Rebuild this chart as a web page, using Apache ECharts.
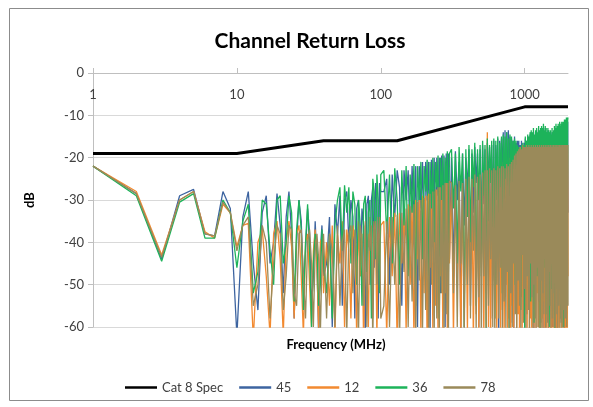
<!DOCTYPE html>
<html>
<head>
<meta charset="utf-8">
<script src="https://cdn.jsdelivr.net/npm/echarts@6/dist/echarts.min.js"></script>
<style>
html,body{margin:0;padding:0;background:#fff;}
#chart{width:593px;height:407px;}
</style>
</head>
<body>
<div id="chart"></div>
<script>
// ---- Data ----
const xTickLabels = ['1', '10', '100', '1000'];
const yTicks = [0, -10, -20, -30, -40, -50, -60];
const seriesNames = ['Cat 8 Spec', '45', '12', '36', '78'];

const specFreqs = [1, 10, 40, 130, 1000, 2000];
const specVals = [-19, -19, -16, -16, -8, -8];

const freqs = [
  1,2,3,4,5,6,7,8,9,10,11,12,13,14,15,16,17,18,19,20,
  21,22,23,24,25,26,27,28,29,30,31,32,33,34,35,36,37,38,39,40,
  42,44,46,48,50,52,54,56,58,60,62,64,66,68,70,72,74,76,78,80,
  82,84,86,88,90,92,94,96,98,100,
  105,110,115,120,125,130,135,140,145,150,155,160,165,170,175,180,185,190,195,200,
  205,210,215,220,225,230,235,240,245,250,255,260,265,270,275,280,285,290,295,300,
  310,320,330,340,350,360,370,380,390,400,
  410,420,430,440,450,460,470,480,490,500,
  510,520,530,540,550,560,570,580,590,600,
  610,620,630,640,650,660,670,680,690,700,
  710,720,730,740,750,760,770,780,790,800,
  810,820,830,840,850,860,870,880,890,900,
  910,920,930,940,950,960,970,980,990,1000,
  1010,1020,1030,1040,1050,1060,1070,1080,1090,1100,
  1110,1120,1130,1140,1150,1160,1170,1180,1190,1200,
  1210,1220,1230,1240,1250,1260,1270,1280,1290,1300,
  1310,1320,1330,1340,1350,1360,1370,1380,1390,1400,
  1410,1420,1430,1440,1450,1460,1470,1480,1490,1500,
  1510,1520,1530,1540,1550,1560,1570,1580,1590,1600,
  1610,1620,1630,1640,1650,1660,1670,1680,1690,1700,
  1710,1720,1730,1740,1750,1760,1770,1780,1790,1800,
  1810,1820,1830,1840,1850,1860,1870,1880,1890,1900,
  1910,1920,1930,1940,1950,1960,1970,1980,1990,2000
];

const rl45 = [
  -22,-28.5,-44,-29,-27.5,-38,-38.5,-28,-32,-62,-34,-28,-45,-56,-33,-29,-45,-40,-28.5,-36,
  -52,-34,-28,-38,-58,-40,-30,-35,-50,-42,-32,-38,-55,-48,-35,-45,-62,-42,-36,-48,
  -45,-34,-60,-31,-38,-29,-55,-30,-28,-40,-30,-34,-58,-32,-30,-48,-32,-36,-62,-31,
  -29,-50,-30,-27,-46,-26,-29,-58,-26,-28,
  -28,-25,-50,-24,-34,-23,-27,-55,-23,-30,-23,-40,-22,-35,-22,-60,-22,-32,-21,-45,
  -21,-30,-21,-62,-20.5,-34,-20,-48,-20,-29,-20,-52,-19.5,-33,-19.5,-60,-19,-31,-19,-44,
  -20,-48,-18.5,-30,-21,-62,-19,-36,-20,-27,
  -18,-55,-19,-33,-17.5,-26,-19,-60,-18,-38,
  -17,-31,-18,-47,-16.5,-27,-17.5,-58,-17,-35,
  -16,-42,-17,-28,-15.5,-63,-16,-32,-15.5,-26,
  -14,-50,-13.5,-30,-14,-37,-13.5,-27,-15,-59,
  -15.5,-29,-16,-61,-15,-34,-16.5,-45,-16,-28,
  -16,-52,-17,-30,-16,-26,-17.5,-44,-16.5,-35,
  -15.5,-28,-16,-57,-15,-33,-15.5,-40,-14.5,-27,
  -14,-46,-14.5,-31,-14,-62,-15,-28,-14,-38,
  -13.5,-30,-14.5,-50,-13.5,-27,-14,-36,-13.5,-59,
  -13,-28,-14,-33,-13,-61,-14,-42,-13,-27,
  -14,-53,-14.5,-29,-13.5,-38,-14,-26,-14.5,-47,
  -14,-36,-15,-28,-14,-60,-14.5,-31,-14,-44,
  -13.5,-27,-14,-50,-13,-33,-14,-62,-13.5,-29,
  -13,-41,-13.5,-27,-12.5,-55,-13.5,-32,-13,-28,
  -12.5,-60,-13,-35,-12.5,-28,-13,-46,-12,-31,
  -12,-29,-12.5,-43,-12,-30,-12,-58,-11.5,-33
];

const rl12 = [
  -22,-28,-43,-30,-28,-37.5,-39,-31,-33,-41,-36,-35.5,-63,-40,-37,-48,-62,-38,-35,-44,
  -62,-40,-35,-41,-58,-38,-36,-48,-62,-40,-38,-50,-60,-42,-37,-46,-61,-40,-39,-52,
  -40,-55,-36,-62,-38,-45,-35,-60,-37,-42,-58,-36,-40,-62,-35,-48,-38,-64,-36,-44,
  -60,-34,-42,-58,-35,-39,-63,-34,-45,-36,
  -35,-62,-34,-48,-33,-64,-33,-45,-32,-61,-31,-50,-31,-63,-30,-44,-30,-62,-29,-52,
  -29,-65,-28.5,-46,-28,-61,-28,-55,-27.5,-63,-27,-48,-27,-64,-26.5,-52,-26,-62,-26,-45,
  -27,-62,-26.5,-48,-27,-65,-26,-55,-26,-61,
  -25.5,-50,-25,-64,-25.5,-57,-24.5,-62,-25,-46,
  -24,-63,-23.5,-52,-14,-60,-23,-66,-23.5,-49,
  -22.5,-58,-22.5,-63,-22,-47,-22.5,-61,-21.5,-56,
  -21,-64,-21.5,-50,-20.5,-62,-21,-58,-20,-65,
  -19.5,-55,-19,-63,-19.5,-48,-18.5,-61,-18.5,-57,
  -18,-62,-17.5,-53,-18,-65,-17,-49,-17.5,-60,
  -17.5,-56,-18,-63,-17.5,-50,-18,-62,-17,-58,
  -17.5,-64,-18,-47,-17.5,-61,-18,-55,-17.5,-63,
  -17,-52,-17.5,-60,-17,-65,-17.5,-49,-17,-62,
  -17.5,-58,-17,-63,-17.5,-54,-17,-61,-17.5,-48,
  -17,-65,-17.5,-56,-17,-62,-17.5,-50,-17,-64,
  -17.5,-53,-17,-61,-17.5,-47,-17,-63,-17.5,-57,
  -17,-62,-17.5,-50,-17,-64,-17.5,-55,-17,-61,
  -17.5,-48,-17,-63,-17.5,-58,-17,-52,-17.5,-65,
  -17,-60,-17.5,-54,-17,-62,-17.5,-49,-17,-63,
  -17.5,-56,-17,-61,-17.5,-50,-17,-64,-17,-48
];

const rl36 = [
  -22,-29,-44.5,-30.5,-28.5,-39,-39,-30,-33,-46,-35,-31,-52,-47,-30,-31,-42,-50,-30,-29,
  -45,-40,-29,-33,-54,-37,-30,-37,-56,-40,-31,-42,-60,-45,-38,-40,-55,-50,-37,-45,
  -52,-38,-58,-36,-30,-27,-42,-26.5,-33,-27,-45,-28,-31,-50,-30,-36,-55,-31,-29,-47,
  -33,-30,-58,-25,-28,-44,-24,-30,-52,-24,
  -23,-38,-24,-45,-22.5,-30,-50,-23,-36,-22,-48,-24,-33,-21.5,-55,-22,-30,-21,-44,-22,
  -28,-20.5,-52,-21,-32,-20,-40,-21,-27,-19.5,-58,-20,-30,-19,-42,-20,-26,-18.5,-47,-19,
  -18,-32,-19,-45,-17.5,-28,-19,-60,-18,-34,
  -17,-40,-18,-27,-16.5,-55,-18,-30,-17,-48,
  -16,-29,-17,-62,-15.5,-35,-17,-26,-16,-44,
  -15.5,-58,-16,-30,-15,-41,-16.5,-27,-15,-52,
  -14.5,-33,-15,-25,-14,-47,-15.5,-61,-14.5,-29,
  -15,-38,-16,-26,-15.5,-50,-16,-31,-17,-42,
  -17.5,-27,-18,-56,-17,-33,-16.5,-24,-17,-63,
  -15,-36,-16,-28,-14.5,-45,-15,-30,-14,-54,
  -13.5,-26,-14,-40,-13,-59,-14.5,-29,-13.5,-35,
  -13,-48,-14,-27,-12.5,-33,-13.5,-62,-13,-30,
  -12.5,-39,-13,-25,-12,-46,-13.5,-28,-12.5,-57,
  -13,-31,-14,-44,-13,-26,-13.5,-60,-14,-34,
  -13.5,-29,-14.5,-51,-13,-37,-14,-27,-13.5,-43,
  -12.5,-61,-13,-30,-12,-38,-13,-26,-12.5,-49,
  -12,-33,-12.5,-45,-11.5,-28,-12.5,-58,-12,-36,
  -11.5,-27,-12,-42,-11.5,-60,-12,-31,-11,-47,
  -11,-35,-11.5,-26,-10.5,-52,-11,-29,-10.5,-11
];

const rl78 = [
  -22,-28.5,-43.5,-30,-28,-38,-38.5,-30.5,-33,-42,-36,-34,-55,-50,-36,-40,-58,-45,-36,-38,
  -56,-48,-36,-37,-52,-55,-38,-37,-48,-58,-40,-37,-45,-60,-42,-38,-44,-62,-45,-38,
  -58,-38,-42,-60,-36,-55,-40,-37,-62,-38,-36,-52,-37,-45,-62,-36,-40,-55,-35,-60,
  -38,-42,-36,-64,-37,-35,-50,-40,-34,-58,
  -55,-35,-60,-34,-50,-33.5,-63,-33,-47,-32,-60,-31.5,-54,-31,-62,-30.5,-49,-30,-61,-29.5,
  -56,-29,-64,-28.5,-50,-28,-62,-27.5,-58,-27,-63,-27,-52,-26.5,-61,-26,-57,-26,-64,-25.5,
  -26,-52,-26.5,-60,-25.5,-45,-26,-63,-25,-50,
  -24.5,-58,-25,-42,-24,-61,-24.5,-53,-24,-64,
  -23.5,-48,-23,-62,-23,-55,-22.5,-44,-23,-60,
  -22.5,-63,-23,-50,-22,-58,-22.5,-46,-22,-62,
  -22,-54,-22.5,-61,-21.5,-47,-22,-64,-21.5,-52,
  -21,-60,-20.5,-45,-19.5,-57,-19,-63,-18.5,-49,
  -18,-55,-17.5,-62,-18,-43,-17,-59,-17.5,-51,
  -17.5,-64,-17,-48,-17.5,-56,-17,-61,-17.5,-45,
  -17,-53,-17.5,-63,-17,-50,-17.5,-58,-17,-62,
  -17.5,-46,-17,-60,-17.5,-54,-17,-64,-17.5,-49,
  -17,-61,-17.5,-52,-17,-57,-17.5,-44,-17,-63,
  -17.5,-50,-17,-59,-17.5,-62,-17,-47,-17.5,-55,
  -17,-63,-17.5,-45,-17,-58,-17.5,-52,-17,-60,
  -17.5,-48,-17,-64,-17.5,-51,-17,-57,-17.5,-62,
  -17,-55,-17.5,-46,-17,-61,-17.5,-53,-17,-59,
  -17.5,-62,-17,-50,-17.5,-56,-17,-63,-17.5,-47,
  -17,-58,-17.5,-52,-17,-60,-17.5,-49,-17,-55
];

// ---- Build series data from arrays ----
function pairs(xs, ys) { return xs.map((x, i) => [x, ys[i]]); }

const colors = ['#000000', '#3d64a0', '#f28a30', '#1db35a', '#9a8a5a'];
const fontFam = 'Lato, "Open Sans", "Liberation Sans", sans-serif';

const chart = echarts.init(document.getElementById('chart'), null, { renderer: 'canvas' });

const dataSeries = [rl45, rl12, rl36, rl78];

const option = {
  backgroundColor: '#ffffff',
  animation: false,
  color: colors,
  textStyle: { fontFamily: fontFam },
  title: [
    {
      text: 'Channel Return Loss',
      left: 305, top: 26, textAlign: 'center',
      textStyle: { fontSize: 21, fontWeight: 'bold', color: '#000', fontFamily: fontFam }
    },
    {
      text: 'Frequency (MHz)',
      left: 331, top: 333, textAlign: 'center',
      textStyle: { fontSize: 13, fontWeight: 'bold', color: '#000', fontFamily: fontFam }
    }
  ],
  legend: {
    left: 120, top: 376,
    icon: 'rect',
    itemWidth: 32, itemHeight: 2.5, itemGap: 16,
    textStyle: { fontSize: 13, color: '#404040', fontFamily: fontFam },
    data: seriesNames
  },
  graphic: [{
    type: 'rect', silent: true, z: -1,
    shape: { x: 9.5, y: 8.5, width: 579, height: 392 },
    style: { fill: 'none', stroke: '#8c8c8c', lineWidth: 1 }
  }],
  grid: { left: 93, right: 25, top: 73, bottom: 80, containLabel: false },
  xAxis: {
    type: 'log', logBase: 10, min: 1, max: 2000,
    position: 'top',
    axisLine: { onZero: false, lineStyle: { color: '#bfbfbf', width: 1 } },
    axisTick: { show: true, inside: false, length: 5, lineStyle: { color: '#bfbfbf' } },
    minorTick: { show: false },
    splitLine: { show: false },
    axisLabel: {
      inside: true, margin: 15, fontSize: 13, color: '#404040', fontFamily: fontFam,
      showMaxLabel: false,
      formatter: function (v) {
        const s = String(Math.round(v));
        return xTickLabels.indexOf(s) >= 0 ? s : '';
      }
    }
  },
  yAxis: {
    type: 'value', min: -60, max: 0, interval: 10,
    name: 'dB', nameLocation: 'middle', nameGap: 57, nameRotate: 90,
    nameTextStyle: { fontSize: 13, fontWeight: 'bold', color: '#000', fontFamily: fontFam },
    axisLine: { show: true, lineStyle: { color: '#bfbfbf' } },
    axisTick: { show: true, length: 5, lineStyle: { color: '#bfbfbf' } },
    splitLine: { show: true, lineStyle: { color: '#d9d9d9', width: 1 } },
    axisLabel: {
      margin: 9, fontSize: 13, color: '#404040', fontFamily: fontFam,
      formatter: function (v) { return yTicks.indexOf(v) >= 0 ? String(v) : ''; }
    }
  },
  series: [
    {
      name: seriesNames[0], type: 'line', symbol: 'none', clip: true, z: 5,
      data: pairs(specFreqs, specVals),
      lineStyle: { color: colors[0], width: 3 }
    }
  ].concat(dataSeries.map((vals, i) => ({
    name: seriesNames[i + 1], type: 'line', symbol: 'none', clip: true, z: 2,
    data: pairs(freqs, vals),
    lineStyle: { color: colors[i + 1], width: 1.3 }
  })))
};

chart.setOption(option);
</script>
</body>
</html>
